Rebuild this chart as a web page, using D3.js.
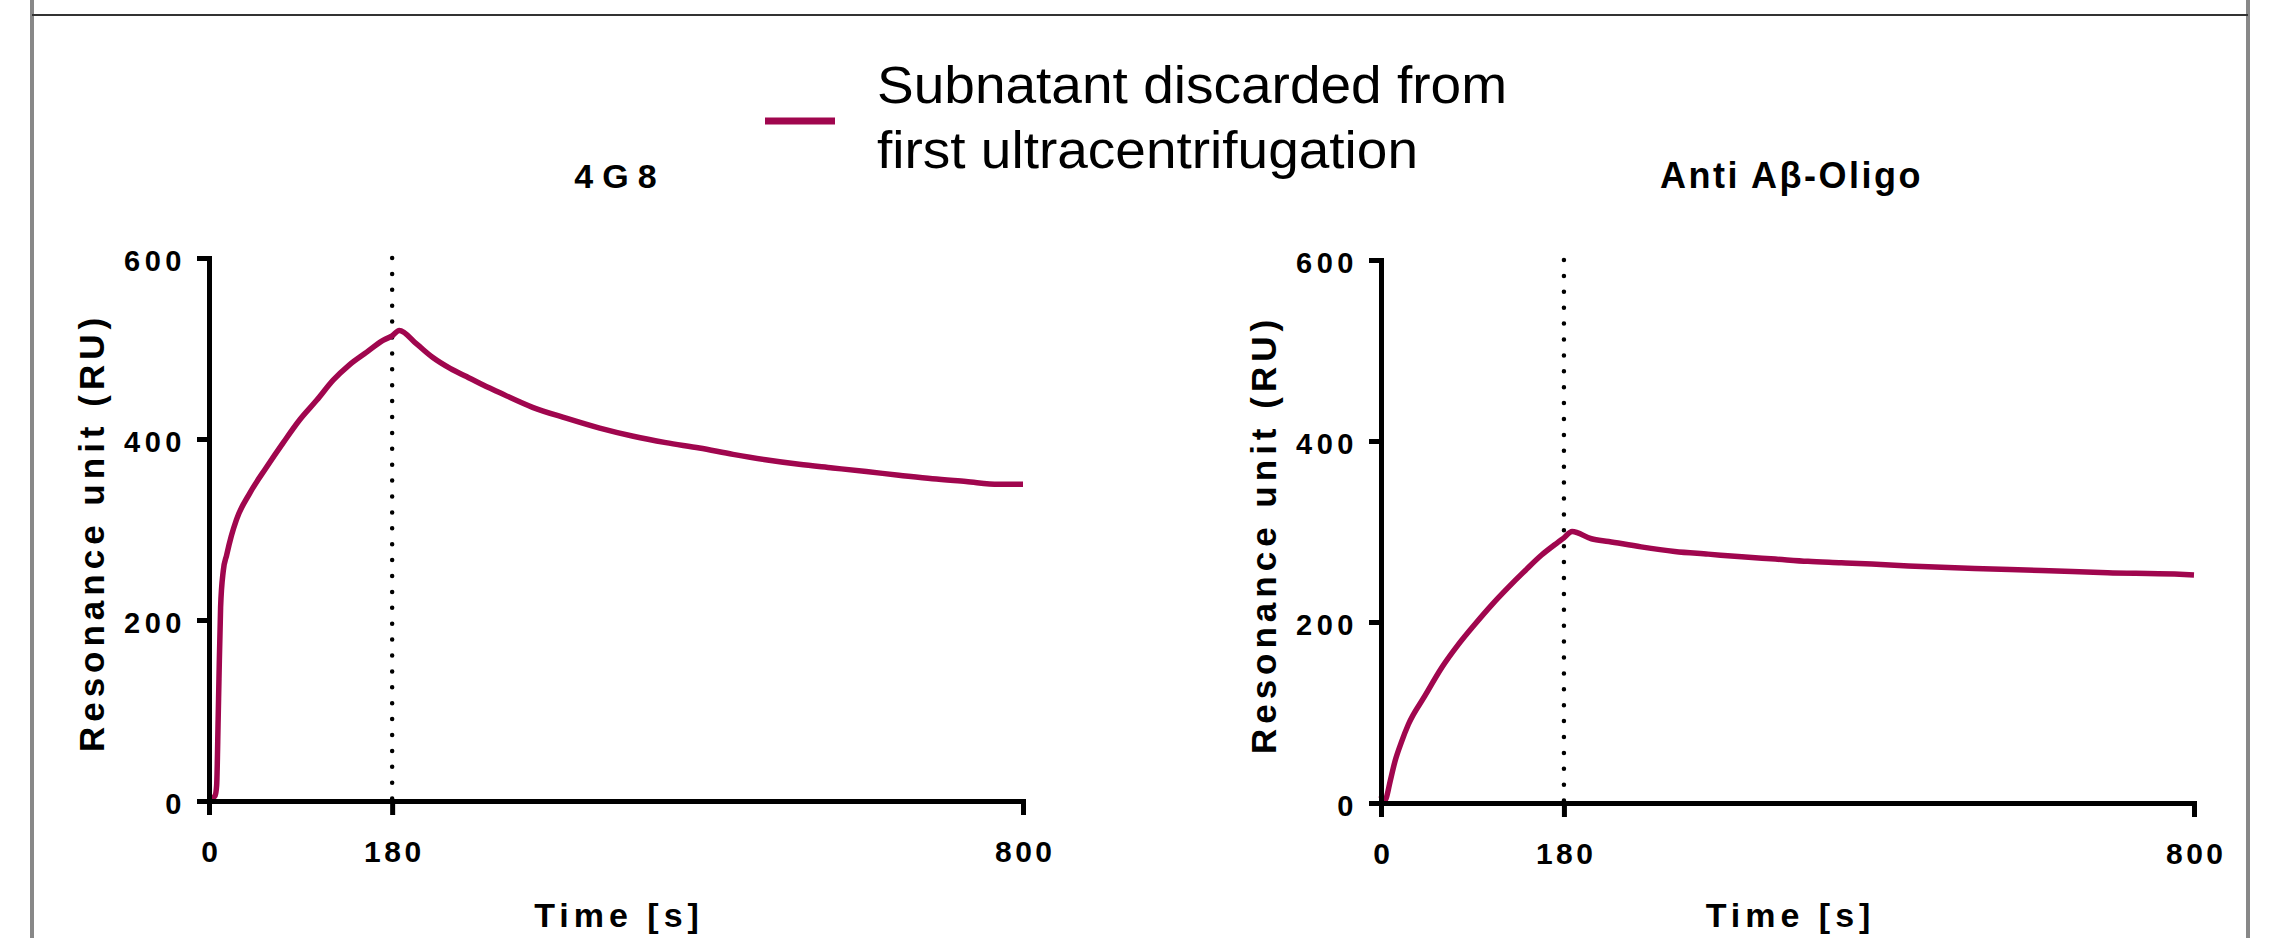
<!DOCTYPE html>
<html>
<head>
<meta charset="utf-8">
<script src="https://cdn.jsdelivr.net/npm/d3@7"></script>
<style>
  body { margin: 0; background: #fff; }
  svg { display: block; }
  text { font-family: "Liberation Sans", Arial, sans-serif; }
</style>
</head>
<body>
<div id="chart"></div>
<script>
// sensorgram values: [time s, RU]
var time4G8 = [0, 3, 6, 7.5, 9, 9.8, 11.4, 14, 17.4, 22, 27, 40, 56, 73, 89, 106, 122, 138, 155, 171, 180, 187,
  204, 220, 237, 253, 269, 286, 318, 351, 384, 417, 449, 482, 515, 547, 580, 613, 646, 678, 711, 744, 776, 800];
var ru4G8 = [2, 3, 6, 17, 90, 135, 214, 254, 272, 293, 311, 340, 368, 396, 421, 443, 465, 482, 496, 509, 514, 520,
  505, 490, 478, 469, 460, 451, 435, 423, 412, 403, 396, 390, 383, 377, 372, 368, 364, 360, 356, 353, 350, 350];

var timeOligo = [0, 3, 5, 9, 14, 20, 27, 43, 60, 76, 92, 109, 125, 142, 158, 174, 180, 188,
  207, 224, 256, 289, 322, 355, 388, 420, 453, 483, 519, 584, 650, 715, 781, 800];
var ruOligo = [8, 2, 5, 24, 47, 67, 87, 118, 150, 175, 197, 219, 238, 257, 274, 288, 293, 300,
  292, 289, 283, 278, 275, 272, 269.5, 267, 265.5, 264, 262, 259, 257, 254.5, 253, 252];

var xTicks = [0, 180, 800];
var yTicks = [0, 200, 400, 600];
var injectionEnd = 180;
var panelTitles = ["4G8", "Anti A\u03b2-Oligo"];
var legendLines = ["Subnatant discarded from", "first ultracentrifugation"];

var _width = 2273, _height = 938;
var lineColor = "#a0064e";

var svg = d3.select("#chart").append("svg")
  .attr("width", _width)
  .attr("height", _height);

// frame
svg.append("line").attr("x1", 32).attr("x2", 32).attr("y1", 0).attr("y2", _height)
  .attr("stroke", "#888").attr("stroke-width", 4);
svg.append("line").attr("x1", 2248).attr("x2", 2248).attr("y1", 0).attr("y2", _height)
  .attr("stroke", "#888").attr("stroke-width", 4);
svg.append("line").attr("x1", 32).attr("x2", 2248).attr("y1", 15).attr("y2", 15)
  .attr("stroke", "#333").attr("stroke-width", 2);

function zip(ts, vs) {
  return ts.map(function(t, i) { return { t: t, v: vs[i] }; });
}

function drawPanel(opts) {
  var x = d3.scaleLinear().domain([0, 800]).range([opts.left, opts.right]);
  var y = d3.scaleLinear().domain([0, 600]).range([opts.bottom, opts.top]);
  var g = svg.append("g");

  // dotted end-of-injection marker
  g.append("line")
    .attr("x1", x(injectionEnd)).attr("x2", x(injectionEnd))
    .attr("y1", y(600)).attr("y2", y(0))
    .attr("stroke", "#000")
    .attr("stroke-width", 4.5)
    .attr("stroke-linecap", "round")
    .attr("stroke-dasharray", "0,15.9");

  var line = d3.line()
    .x(function(d) { return x(d.t); })
    .y(function(d) { return y(d.v); })
    .curve(d3.curveMonotoneX);

  g.append("path")
    .datum(opts.data)
    .attr("d", line)
    .attr("fill", "none")
    .attr("stroke", lineColor)
    .attr("stroke-width", 5.5)
    .attr("stroke-linejoin", "round");

  var xAxis = g.append("g")
    .attr("transform", "translate(0," + opts.bottom + ")")
    .call(d3.axisBottom(x).tickValues(xTicks).tickSize(14).tickSizeOuter(0).tickPadding(26));
  var yAxis = g.append("g")
    .attr("transform", "translate(" + opts.left + ",0)")
    .call(d3.axisLeft(y).tickValues(yTicks).tickSize(12).tickSizeOuter(0).tickPadding(11));

  [xAxis, yAxis].forEach(function(a) {
    a.select(".domain").attr("stroke", "#000").attr("stroke-width", 5).attr("stroke-linecap", "square");
    a.selectAll(".tick line").attr("stroke", "#000").attr("stroke-width", 5);
    a.selectAll(".tick text")
      .attr("fill", "#000")
      .style("font-family", "'Liberation Sans', Arial, sans-serif")
      .style("font-weight", "bold");
  });
  xAxis.selectAll(".tick text")
    .style("font-size", "30px").style("letter-spacing", "3.5px").attr("dx", 1.75);
  yAxis.selectAll(".tick text")
    .style("font-size", "29px").style("letter-spacing", "4.5px").attr("dy", "0.42em");

  var cx = (opts.left + opts.right) / 2;

  g.append("text")
    .attr("x", cx + 4).attr("y", 188)
    .attr("text-anchor", "middle")
    .style("font-size", opts.titleSize + "px").style("font-weight", "bold")
    .style("letter-spacing", opts.titleSpacing + "px")
    .text(opts.title);

  g.append("text")
    .attr("x", cx + 3).attr("y", 927)
    .attr("text-anchor", "middle")
    .style("font-size", "34px").style("font-weight", "bold")
    .style("letter-spacing", "5px")
    .text("Time [s]");

  g.append("text")
    .attr("transform", "translate(" + (opts.left - 105) + "," + ((opts.top + opts.bottom) / 2 + 3) + ") rotate(-90)")
    .attr("text-anchor", "middle")
    .style("font-size", "35px").style("font-weight", "bold")
    .style("letter-spacing", "5px")
    .text("Resonance unit (RU)");
}

drawPanel({
  left: 209, right: 1023, top: 258, bottom: 801,
  data: zip(time4G8, ru4G8), title: panelTitles[0], titleSize: 34, titleSpacing: 9
});
drawPanel({
  left: 1381, right: 2194, top: 260, bottom: 803,
  data: zip(timeOligo, ruOligo), title: panelTitles[1], titleSize: 36, titleSpacing: 2.5
});

// legend
var legend = svg.append("g");
legend.append("line")
  .attr("x1", 765).attr("x2", 835).attr("y1", 121).attr("y2", 121)
  .attr("stroke", lineColor).attr("stroke-width", 7);
legend.selectAll("text.legend")
  .data(legendLines)
  .enter().append("text")
  .attr("class", "legend")
  .attr("x", 877)
  .attr("y", function(d, i) { return 103 + i * 65; })
  .attr("textLength", function(d, i) { return i === 0 ? 630 : 541; })
  .attr("lengthAdjust", "spacingAndGlyphs")
  .style("font-size", "51px")
  .attr("fill", "#000")
  .text(function(d) { return d; });
</script>
</body>
</html>
